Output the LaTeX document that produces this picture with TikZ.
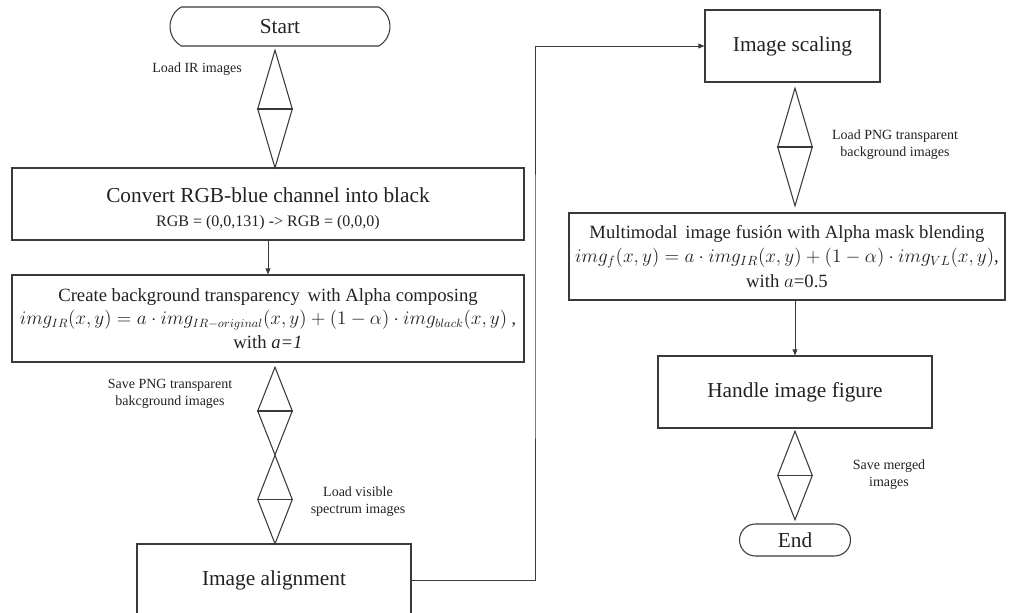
\documentclass[tikz,border=0pt]{standalone}
\usepackage{fontspec}
\setmainfont{Liberation Serif}
\usepackage{xcolor}
\definecolor{flink}{HTML}{222222}
\definecolor{flline}{HTML}{3A3A3A}
\usetikzlibrary{arrows.meta,positioning,shapes.geometric,shapes.misc}
\def\px{0.75pt}
\tikzset{
  flbox/.style  ={rectangle, draw=flline, line width=0.8pt, inner sep=2pt,
                  align=center, text=flink, font=\fontsize{16}{19}\selectfont},
  flmid/.style  ={flbox, font=\fontsize{14}{17.5}\selectfont},
  flterm/.style ={rounded rectangle, draw=flline, line width=0.8pt, inner sep=0pt,
                  text=flink, font=\fontsize{16}{19}\selectfont},
  flgate/.style ={diamond, draw=flline, line width=0.8pt, inner sep=0pt,
                  minimum width=35*\px},
  flbar/.style  ={draw=flline, line width=0.8pt},
  flarrow/.style={-{Triangle[length=4.5pt,width=3.6pt]}, line width=0.7pt, draw=flline},
  fllbl/.style  ={font=\fontsize{10.5}{12.75}\selectfont, text=flink, align=center},
}
\newcommand{\flsmall}{\fontsize{12}{14}\selectfont}
\newcommand{\flmath}{\fontsize{13.5}{17.5}\selectfont}

\begin{document}
\begin{tikzpicture}[x=0.75pt, y=-0.75pt]
  \useasboundingbox (0,0) rectangle (1010,613);
  \clip (0,0) rectangle (1010,613);
  % left column
  \node[flterm, rounded rectangle arc length=120, minimum width=220*\px, minimum height=39*\px]
       (start) at (280,26.5) {Start};
  \node[flbox, minimum width=512*\px, minimum height=72*\px] (black) at (268,204)
       {\rule{0pt}{18.4pt}Convert RGB-blue channel into black\\[-0.5pt]
        {\flsmall RGB = (0,0,131) -> RGB = (0,0,0)}};
  \node[flmid, minimum width=512*\px, minimum height=87*\px] (alpha) at (268,318.5)
       {Create background transparency\, with Alpha composing\\
        {\flmath $img_{IR}(x,y) = a\cdot img_{IR-original}(x,y) + (1-\alpha)\cdot img_{black}(x,y)$ ,}\\
        with \textit{a=1}};
  \node[flbox, minimum width=274*\px, minimum height=72*\px] (align) at (274,580)
       {Image alignment};
  \draw[flarrow] (black) -- (alpha);
  % right column
  \node[flbox, minimum width=175*\px, minimum height=72*\px] (scale) at (792.5,46)
       {Image scaling};
  \node[flmid, minimum width=436*\px, minimum height=87*\px] (fusion) at (787,256.5)
       {Multimodal\, image fusión with Alpha mask blending\\[1pt]
        $img_{f}(x,y) = a\cdot img_{IR}(x,y) + (1-\alpha)\cdot img_{VL}(x,y)$,\\[1pt]
        with $a$=0.5};
  \node[flbox, minimum width=274*\px, minimum height=72*\px] (figure) at (795,392)
       {Handle image figure};
  \node[flterm, minimum width=111*\px, minimum height=32*\px] (end) at (795,540) {End};
  \draw[flarrow] (fusion.south -| figure.north) -- (figure.north);
  % data steps
  \foreach \n/\x/\y/\h in {d1/275/109/118, d2/275/411/88, d3/275/499.5/89,
                           d4/795/147/118, d5/795/475.5/89}{
    \node[flgate, minimum height=\h*\px] (\n) at (\x,\y) {};
    \draw[flbar] (\n.west) -- (\n.east);
  }
  \node[fllbl] (lir)  at (197,69)  {Load IR images};
  \node[fllbl] (lpng) at (170,394) {Save PNG transparent\\bakcground images};
  \node[fllbl] (lvis) at (358,502) {Load visible\\spectrum images};
  \node[fllbl] (ltr)  at (895,145) {Load PNG transparent\\background images};
  \node[fllbl] (lsav) at (889,475) {Save merged\\images};
  % jump to the second column
  \coordinate (jog) at (535,300);
  \draw[flarrow] (align.east) -| (jog) |- (scale.west);
\end{tikzpicture}
\end{document}
